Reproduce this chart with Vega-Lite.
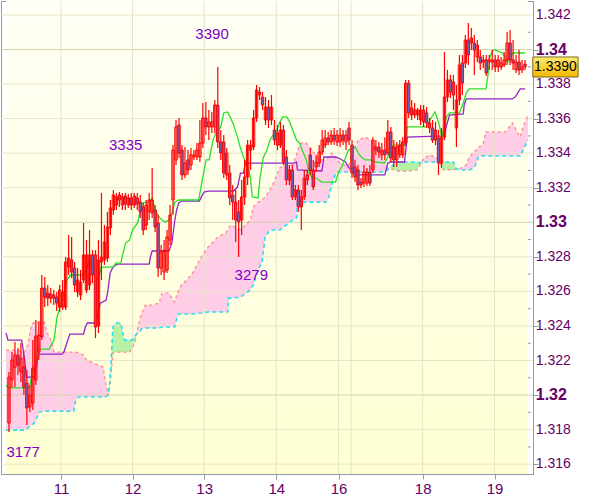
{
"$schema": "https://vega.github.io/schema/vega-lite/v6.json",
"width": 532, "height": 473,
"autosize": "none",
"padding": {"left": 1, "top": 1, "right": 67, "bottom": 23},
"background": "white",
"config": {"view": {"stroke": "#8D9CAB", "strokeWidth": 1},
  "axis": {"grid": false, "domainColor": "#8D9CAB", "tickColor": "#8D9CAB", "labelColor": "#660066", "labelFont": "Liberation Sans", "labelFlush": false, "tickSize": 5},
  "axisX": {"labelPadding": 2, "labelFontSize": 15}},
"datasets": {
"candles": [
{"i":1,"o":1.31838,"h":1.32133,"l":1.31786,"c":1.32104},
{"i":2,"o":1.32087,"h":1.32249,"l":1.32041,"c":1.32203},
{"i":3,"o":1.32162,"h":1.32307,"l":1.32046,"c":1.32232},
{"i":4,"o":1.32232,"h":1.32272,"l":1.32116,"c":1.32174},
{"i":5,"o":1.32133,"h":1.32301,"l":1.32075,"c":1.32214},
{"i":6,"o":1.32162,"h":1.32232,"l":1.32000,"c":1.32046},
{"i":7,"o":1.32069,"h":1.32145,"l":1.31826,"c":1.31925},
{"i":8,"o":1.31931,"h":1.32058,"l":1.31902,"c":1.32000},
{"i":9,"o":1.31954,"h":1.32318,"l":1.31913,"c":1.32156},
{"i":10,"o":1.32087,"h":1.32435,"l":1.32058,"c":1.32342},
{"i":11,"o":1.32249,"h":1.32423,"l":1.32203,"c":1.32347},
{"i":12,"o":1.32336,"h":1.32695,"l":1.32318,"c":1.32619},
{"i":13,"o":1.32619,"h":1.32683,"l":1.32509,"c":1.32567},
{"i":14,"o":1.32590,"h":1.32637,"l":1.32515,"c":1.32561},
{"i":15,"o":1.32561,"h":1.32619,"l":1.32532,"c":1.32585},
{"i":16,"o":1.32579,"h":1.32608,"l":1.32521,"c":1.32561},
{"i":17,"o":1.32567,"h":1.32596,"l":1.32486,"c":1.32532},
{"i":18,"o":1.32509,"h":1.32637,"l":1.32482,"c":1.32608},
{"i":19,"o":1.32509,"h":1.32666,"l":1.32492,"c":1.32596},
{"i":20,"o":1.32509,"h":1.32799,"l":1.32492,"c":1.32770},
{"i":21,"o":1.32741,"h":1.32926,"l":1.32695,"c":1.32793},
{"i":22,"o":1.32782,"h":1.32915,"l":1.32677,"c":1.32712},
{"i":23,"o":1.32735,"h":1.32770,"l":1.32596,"c":1.32637},
{"i":24,"o":1.32596,"h":1.32735,"l":1.32567,"c":1.32666},
{"i":25,"o":1.32579,"h":1.32724,"l":1.32550,"c":1.32654},
{"i":26,"o":1.32666,"h":1.32996,"l":1.32648,"c":1.32811},
{"i":27,"o":1.32608,"h":1.32897,"l":1.32590,"c":1.32811},
{"i":28,"o":1.32637,"h":1.32955,"l":1.32608,"c":1.32811},
{"i":29,"o":1.32811,"h":1.32839,"l":1.32648,"c":1.32695},
{"i":30,"o":1.32811,"h":1.32839,"l":1.32330,"c":1.32394},
{"i":31,"o":1.32400,"h":1.32897,"l":1.32359,"c":1.32782},
{"i":32,"o":1.32770,"h":1.33170,"l":1.32666,"c":1.32799},
{"i":33,"o":1.32782,"h":1.32984,"l":1.32753,"c":1.32886},
{"i":34,"o":1.32793,"h":1.33060,"l":1.32770,"c":1.32973},
{"i":35,"o":1.32967,"h":1.33129,"l":1.32926,"c":1.33083},
{"i":36,"o":1.33071,"h":1.33187,"l":1.33042,"c":1.33158},
{"i":37,"o":1.33100,"h":1.33170,"l":1.33071,"c":1.33147},
{"i":38,"o":1.33158,"h":1.33175,"l":1.33089,"c":1.33129},
{"i":39,"o":1.33100,"h":1.33170,"l":1.33071,"c":1.33147},
{"i":40,"o":1.33152,"h":1.33170,"l":1.33071,"c":1.33106},
{"i":41,"o":1.33100,"h":1.33164,"l":1.33083,"c":1.33141},
{"i":42,"o":1.33141,"h":1.33170,"l":1.33071,"c":1.33100},
{"i":43,"o":1.33100,"h":1.33170,"l":1.33083,"c":1.33152},
{"i":44,"o":1.33141,"h":1.33170,"l":1.33071,"c":1.33106},
{"i":45,"o":1.33117,"h":1.33158,"l":1.33025,"c":1.33060},
{"i":46,"o":1.33089,"h":1.33112,"l":1.32926,"c":1.32955},
{"i":47,"o":1.32984,"h":1.33129,"l":1.32955,"c":1.33100},
{"i":48,"o":1.33060,"h":1.33170,"l":1.33013,"c":1.33129},
{"i":49,"o":1.33054,"h":1.33314,"l":1.33025,"c":1.33129},
{"i":50,"o":1.33071,"h":1.33100,"l":1.32944,"c":1.32973},
{"i":51,"o":1.32996,"h":1.33042,"l":1.32683,"c":1.32735},
{"i":52,"o":1.32735,"h":1.32868,"l":1.32695,"c":1.32828},
{"i":53,"o":1.32712,"h":1.32897,"l":1.32666,"c":1.32839},
{"i":54,"o":1.32724,"h":1.32955,"l":1.32706,"c":1.32915},
{"i":55,"o":1.32897,"h":1.33100,"l":1.32868,"c":1.33042},
{"i":56,"o":1.33129,"h":1.33447,"l":1.33042,"c":1.33418},
{"i":57,"o":1.33361,"h":1.33592,"l":1.33332,"c":1.33552},
{"i":58,"o":1.33563,"h":1.33604,"l":1.33372,"c":1.33401},
{"i":59,"o":1.33418,"h":1.33447,"l":1.33245,"c":1.33274},
{"i":60,"o":1.33274,"h":1.33436,"l":1.33256,"c":1.33343},
{"i":61,"o":1.33361,"h":1.33418,"l":1.33274,"c":1.33303},
{"i":62,"o":1.33332,"h":1.33430,"l":1.33303,"c":1.33390},
{"i":63,"o":1.33378,"h":1.33418,"l":1.33361,"c":1.33390},
{"i":64,"o":1.33378,"h":1.33459,"l":1.33361,"c":1.33418},
{"i":65,"o":1.33378,"h":1.33592,"l":1.33349,"c":1.33459},
{"i":66,"o":1.33459,"h":1.33691,"l":1.33430,"c":1.33604},
{"i":67,"o":1.33604,"h":1.33696,"l":1.33505,"c":1.33552},
{"i":68,"o":1.33552,"h":1.33650,"l":1.33476,"c":1.33581},
{"i":69,"o":1.33552,"h":1.33639,"l":1.33517,"c":1.33581},
{"i":70,"o":1.33552,"h":1.33708,"l":1.33517,"c":1.33679},
{"i":71,"o":1.33679,"h":1.33899,"l":1.33430,"c":1.33465},
{"i":72,"o":1.33465,"h":1.33534,"l":1.33361,"c":1.33401},
{"i":73,"o":1.33465,"h":1.33505,"l":1.33256,"c":1.33285},
{"i":74,"o":1.33274,"h":1.33430,"l":1.33245,"c":1.33401},
{"i":75,"o":1.33285,"h":1.33332,"l":1.33100,"c":1.33141},
{"i":76,"o":1.33158,"h":1.33216,"l":1.33013,"c":1.33117},
{"i":77,"o":1.33117,"h":1.33187,"l":1.32886,"c":1.33013},
{"i":78,"o":1.33060,"h":1.33129,"l":1.32799,"c":1.33002},
{"i":79,"o":1.33013,"h":1.33245,"l":1.32926,"c":1.33147},
{"i":80,"o":1.33147,"h":1.33361,"l":1.33100,"c":1.33262},
{"i":81,"o":1.33262,"h":1.33476,"l":1.33216,"c":1.33447},
{"i":82,"o":1.33418,"h":1.33476,"l":1.33303,"c":1.33447},
{"i":83,"o":1.33436,"h":1.33650,"l":1.33418,"c":1.33604},
{"i":84,"o":1.33604,"h":1.33795,"l":1.33581,"c":1.33766},
{"i":85,"o":1.33737,"h":1.33783,"l":1.33708,"c":1.33754},
{"i":86,"o":1.33725,"h":1.33754,"l":1.33650,"c":1.33679},
{"i":87,"o":1.33592,"h":1.33725,"l":1.33563,"c":1.33667},
{"i":88,"o":1.33667,"h":1.33708,"l":1.33546,"c":1.33592},
{"i":89,"o":1.33592,"h":1.33737,"l":1.33563,"c":1.33667},
{"i":90,"o":1.33534,"h":1.33592,"l":1.33447,"c":1.33476},
{"i":91,"o":1.33517,"h":1.33563,"l":1.33418,"c":1.33447},
{"i":92,"o":1.33447,"h":1.33581,"l":1.33430,"c":1.33534},
{"i":93,"o":1.33534,"h":1.33563,"l":1.33332,"c":1.33349},
{"i":94,"o":1.33378,"h":1.33418,"l":1.33216,"c":1.33245},
{"i":95,"o":1.33245,"h":1.33332,"l":1.33216,"c":1.33303},
{"i":96,"o":1.33303,"h":1.33332,"l":1.33129,"c":1.33147},
{"i":97,"o":1.33147,"h":1.33216,"l":1.33129,"c":1.33187},
{"i":98,"o":1.33187,"h":1.33216,"l":1.33060,"c":1.33089},
{"i":99,"o":1.33147,"h":1.33187,"l":1.32955,"c":1.33089},
{"i":100,"o":1.33147,"h":1.33303,"l":1.33129,"c":1.33256},
{"i":101,"o":1.33274,"h":1.33303,"l":1.33216,"c":1.33245},
{"i":102,"o":1.33390,"h":1.33430,"l":1.33274,"c":1.33303},
{"i":103,"o":1.33303,"h":1.33361,"l":1.33187,"c":1.33204},
{"i":104,"o":1.33320,"h":1.33390,"l":1.33291,"c":1.33349},
{"i":105,"o":1.33343,"h":1.33447,"l":1.33320,"c":1.33407},
{"i":106,"o":1.33407,"h":1.33534,"l":1.33390,"c":1.33476},
{"i":107,"o":1.33447,"h":1.33534,"l":1.33430,"c":1.33488},
{"i":108,"o":1.33488,"h":1.33523,"l":1.33447,"c":1.33465},
{"i":109,"o":1.33465,"h":1.33534,"l":1.33447,"c":1.33505},
{"i":110,"o":1.33505,"h":1.33546,"l":1.33447,"c":1.33476},
{"i":111,"o":1.33465,"h":1.33534,"l":1.33442,"c":1.33505},
{"i":112,"o":1.33465,"h":1.33546,"l":1.33436,"c":1.33505},
{"i":113,"o":1.33505,"h":1.33534,"l":1.33447,"c":1.33476},
{"i":114,"o":1.33465,"h":1.33534,"l":1.33418,"c":1.33505},
{"i":115,"o":1.33546,"h":1.33581,"l":1.33447,"c":1.33476},
{"i":116,"o":1.33447,"h":1.33476,"l":1.33256,"c":1.33285},
{"i":117,"o":1.33320,"h":1.33361,"l":1.33233,"c":1.33262},
{"i":118,"o":1.33303,"h":1.33332,"l":1.33187,"c":1.33216},
{"i":119,"o":1.33233,"h":1.33256,"l":1.33198,"c":1.33216},
{"i":120,"o":1.33227,"h":1.33332,"l":1.33204,"c":1.33291},
{"i":121,"o":1.33227,"h":1.33314,"l":1.33210,"c":1.33291},
{"i":122,"o":1.33291,"h":1.33332,"l":1.33210,"c":1.33227},
{"i":123,"o":1.33303,"h":1.33493,"l":1.33285,"c":1.33476},
{"i":124,"o":1.33418,"h":1.33476,"l":1.33390,"c":1.33436},
{"i":125,"o":1.33436,"h":1.33465,"l":1.33372,"c":1.33407},
{"i":126,"o":1.33390,"h":1.33459,"l":1.33361,"c":1.33418},
{"i":127,"o":1.33418,"h":1.33493,"l":1.33361,"c":1.33390},
{"i":128,"o":1.33401,"h":1.33592,"l":1.33390,"c":1.33523},
{"i":129,"o":1.33523,"h":1.33552,"l":1.33349,"c":1.33372},
{"i":130,"o":1.33436,"h":1.33476,"l":1.33320,"c":1.33361},
{"i":131,"o":1.33361,"h":1.33465,"l":1.33320,"c":1.33436},
{"i":132,"o":1.33390,"h":1.33476,"l":1.33372,"c":1.33447},
{"i":133,"o":1.33390,"h":1.33493,"l":1.33372,"c":1.33465},
{"i":134,"o":1.33459,"h":1.33824,"l":1.33442,"c":1.33806},
{"i":135,"o":1.33806,"h":1.33824,"l":1.33604,"c":1.33633},
{"i":136,"o":1.33662,"h":1.33708,"l":1.33592,"c":1.33621},
{"i":137,"o":1.33621,"h":1.33691,"l":1.33604,"c":1.33650},
{"i":138,"o":1.33621,"h":1.33662,"l":1.33592,"c":1.33650},
{"i":139,"o":1.33592,"h":1.33679,"l":1.33563,"c":1.33650},
{"i":140,"o":1.33650,"h":1.33679,"l":1.33552,"c":1.33581},
{"i":141,"o":1.33633,"h":1.33667,"l":1.33546,"c":1.33575},
{"i":142,"o":1.33575,"h":1.33604,"l":1.33517,"c":1.33546},
{"i":143,"o":1.33546,"h":1.33592,"l":1.33459,"c":1.33476},
{"i":144,"o":1.33534,"h":1.33581,"l":1.33447,"c":1.33476},
{"i":145,"o":1.33488,"h":1.33534,"l":1.33274,"c":1.33343},
{"i":146,"o":1.33343,"h":1.33546,"l":1.33314,"c":1.33493},
{"i":147,"o":1.33493,"h":1.33986,"l":1.33476,"c":1.33725},
{"i":148,"o":1.33725,"h":1.33882,"l":1.33696,"c":1.33824},
{"i":149,"o":1.33824,"h":1.33853,"l":1.33720,"c":1.33754},
{"i":150,"o":1.33812,"h":1.33853,"l":1.33650,"c":1.33737},
{"i":151,"o":1.33546,"h":1.33795,"l":1.33436,"c":1.33708},
{"i":152,"o":1.33708,"h":1.33969,"l":1.33679,"c":1.33911},
{"i":153,"o":1.33922,"h":1.33969,"l":1.33737,"c":1.33806},
{"i":154,"o":1.33922,"h":1.34084,"l":1.33893,"c":1.34055},
{"i":155,"o":1.34055,"h":1.34154,"l":1.33911,"c":1.33969},
{"i":156,"o":1.34038,"h":1.34125,"l":1.33997,"c":1.34067},
{"i":157,"o":1.34038,"h":1.34084,"l":1.33853,"c":1.33997},
{"i":158,"o":1.33957,"h":1.34055,"l":1.33928,"c":1.34026},
{"i":159,"o":1.33957,"h":1.33997,"l":1.33882,"c":1.33922},
{"i":160,"o":1.33928,"h":1.33969,"l":1.33893,"c":1.33940},
{"i":161,"o":1.33940,"h":1.33969,"l":1.33847,"c":1.33864},
{"i":162,"o":1.33928,"h":1.33969,"l":1.33882,"c":1.33940},
{"i":163,"o":1.33928,"h":1.33997,"l":1.33882,"c":1.33940},
{"i":164,"o":1.33940,"h":1.33969,"l":1.33870,"c":1.33899},
{"i":165,"o":1.33899,"h":1.33969,"l":1.33870,"c":1.33940},
{"i":166,"o":1.33899,"h":1.33957,"l":1.33882,"c":1.33922},
{"i":167,"o":1.33911,"h":1.33986,"l":1.33899,"c":1.33940},
{"i":168,"o":1.33940,"h":1.34102,"l":1.33911,"c":1.34038},
{"i":169,"o":1.34038,"h":1.34113,"l":1.33911,"c":1.33940},
{"i":170,"o":1.33940,"h":1.34055,"l":1.33882,"c":1.33922},
{"i":171,"o":1.33882,"h":1.33969,"l":1.33864,"c":1.33928},
{"i":172,"o":1.33928,"h":1.33997,"l":1.33853,"c":1.33882},
{"i":173,"o":1.33882,"h":1.33940,"l":1.33864,"c":1.33899},
{"i":174,"o":1.33916,"h":1.33940,"l":1.33882,"c":1.33900}
],
"tenkan": [
{"t":0,"v":1.32058},{"t":0.66,"v":1.32041},{"t":7.9,"v":1.32041},{"t":8.55,"v":1.32104},{"t":9.54,"v":1.32174},{"t":10.53,"v":1.3226},{"t":11.18,"v":1.32266},{"t":14.47,"v":1.32266},{"t":15.13,"v":1.32289},{"t":16.12,"v":1.32318},{"t":17.1,"v":1.32452},{"t":18.1,"v":1.32509},{"t":19.4,"v":1.3259},{"t":20.4,"v":1.32666},{"t":21.7,"v":1.32695},{"t":26.0,"v":1.32695},{"t":27.0,"v":1.32724},{"t":28.0,"v":1.32782},{"t":28.9,"v":1.32735},{"t":29.9,"v":1.32683},{"t":30.9,"v":1.32666},{"t":31.9,"v":1.32741},{"t":35.9,"v":1.32741},{"t":36.8,"v":1.32764},{"t":38.5,"v":1.32764},{"t":39.1,"v":1.32811},{"t":40.1,"v":1.3288},{"t":41.4,"v":1.32897},{"t":42.4,"v":1.32955},{"t":44.1,"v":1.32996},{"t":45.1,"v":1.33071},{"t":45.7,"v":1.33112},{"t":48.0,"v":1.33117},{"t":49.0,"v":1.33141},{"t":50.0,"v":1.33071},{"t":51.3,"v":1.33031},{"t":52.3,"v":1.33013},{"t":53.3,"v":1.33002},{"t":54.6,"v":1.33013},{"t":55.6,"v":1.33054},{"t":56.6,"v":1.33117},{"t":57.9,"v":1.33129},{"t":64.5,"v":1.33129},{"t":64.8,"v":1.33147},{"t":65.8,"v":1.33245},{"t":67.1,"v":1.33361},{"t":68.1,"v":1.33361},{"t":69.4,"v":1.33476},{"t":70.4,"v":1.33517},{"t":72.0,"v":1.33552},{"t":73.0,"v":1.33633},{"t":74.3,"v":1.33639},{"t":75.3,"v":1.33604},{"t":76.3,"v":1.33563},{"t":77.6,"v":1.33493},{"t":78.6,"v":1.3343},{"t":79.6,"v":1.33378},{"t":80.9,"v":1.33332},{"t":81.9,"v":1.33262},{"t":82.6,"v":1.33147},{"t":84.5,"v":1.33141},{"t":85.2,"v":1.33262},{"t":86.2,"v":1.33372},{"t":87.5,"v":1.33418},{"t":88.5,"v":1.33476},{"t":89.5,"v":1.33505},{"t":90.8,"v":1.33534},{"t":91.8,"v":1.33581},{"t":92.8,"v":1.3361},{"t":94.1,"v":1.3361},{"t":95.1,"v":1.33581},{"t":96.1,"v":1.33534},{"t":97.4,"v":1.33476},{"t":98.4,"v":1.33459},{"t":99.3,"v":1.33418},{"t":100.7,"v":1.33361},{"t":101.6,"v":1.33285},{"t":102.6,"v":1.33256},{"t":103.9,"v":1.33256},{"t":104.9,"v":1.33245},{"t":105.9,"v":1.33233},{"t":110.5,"v":1.33233},{"t":111.5,"v":1.33291},{"t":112.5,"v":1.3332},{"t":113.8,"v":1.33372},{"t":114.8,"v":1.33418},{"t":117.1,"v":1.33436},{"t":118.1,"v":1.33401},{"t":119.1,"v":1.33378},{"t":120.4,"v":1.33361},{"t":122.4,"v":1.33361},{"t":123.7,"v":1.33349},{"t":127.0,"v":1.33343},{"t":128.0,"v":1.33378},{"t":128.9,"v":1.3343},{"t":130.3,"v":1.33447},{"t":133.6,"v":1.33447},{"t":134.5,"v":1.33552},{"t":141.1,"v":1.33552},{"t":142.1,"v":1.33592},{"t":143.8,"v":1.33639},{"t":145.1,"v":1.33575},{"t":146.1,"v":1.33493},{"t":147.7,"v":1.3361},{"t":148.7,"v":1.33633},{"t":152.0,"v":1.33633},{"t":153.3,"v":1.33691},{"t":154.3,"v":1.33749},{"t":155.3,"v":1.33772},{"t":160.9,"v":1.33772},{"t":161.5,"v":1.33841},{"t":162.2,"v":1.33957},{"t":163.2,"v":1.33997},{"t":164.1,"v":1.33997},{"t":166.4,"v":1.3398},{"t":167.4,"v":1.33957},{"t":168.1,"v":1.33928},{"t":169.1,"v":1.3394},{"t":169.7,"v":1.3398},{"t":174.0,"v":1.3398}
],
"kijun": [
{"t":0,"v":1.32359},{"t":0.66,"v":1.32318},{"t":5.26,"v":1.32318},{"t":6.25,"v":1.32203},{"t":6.9,"v":1.32104},{"t":9.54,"v":1.32104},{"t":10.2,"v":1.32174},{"t":10.86,"v":1.32237},{"t":18.75,"v":1.32237},{"t":19.4,"v":1.32249},{"t":20.4,"v":1.32301},{"t":21.4,"v":1.32353},{"t":26.0,"v":1.32353},{"t":26.6,"v":1.32394},{"t":27.3,"v":1.32417},{"t":29.6,"v":1.32417},{"t":30.3,"v":1.32435},{"t":30.9,"v":1.32475},{"t":31.6,"v":1.32532},{"t":33.6,"v":1.3255},{"t":34.2,"v":1.32608},{"t":34.9,"v":1.32706},{"t":35.9,"v":1.32741},{"t":36.8,"v":1.32753},{"t":37.5,"v":1.32758},{"t":48.0,"v":1.32758},{"t":48.4,"v":1.32799},{"t":49.0,"v":1.32834},{"t":54.6,"v":1.32834},{"t":54.9,"v":1.32845},{"t":55.6,"v":1.3288},{"t":56.6,"v":1.33013},{"t":57.2,"v":1.33071},{"t":57.9,"v":1.33112},{"t":58.9,"v":1.33123},{"t":64.8,"v":1.33123},{"t":65.5,"v":1.33147},{"t":66.4,"v":1.33175},{"t":67.8,"v":1.33181},{"t":76.3,"v":1.33181},{"t":77.6,"v":1.33204},{"t":78.6,"v":1.33285},{"t":79.6,"v":1.33285},{"t":80.3,"v":1.33343},{"t":96.7,"v":1.33343},{"t":97.4,"v":1.33349},{"t":97.7,"v":1.33303},{"t":105.9,"v":1.33297},{"t":106.6,"v":1.33378},{"t":110.5,"v":1.33378},{"t":111.5,"v":1.33372},{"t":113.8,"v":1.33349},{"t":114.8,"v":1.3332},{"t":115.8,"v":1.33303},{"t":117.1,"v":1.33274},{"t":127.0,"v":1.33274},{"t":128.0,"v":1.33343},{"t":128.9,"v":1.33349},{"t":133.6,"v":1.33349},{"t":134.5,"v":1.33493},{"t":146.7,"v":1.335},{"t":148.7,"v":1.33621},{"t":153.3,"v":1.33627},{"t":153.6,"v":1.33679},{"t":154.3,"v":1.33714},{"t":169.7,"v":1.33714},{"t":170.7,"v":1.33725},{"t":172.4,"v":1.33772},{"t":174.0,"v":1.33772}
],
"cloud": [
{"seg":1,"k":"p","t":0,"a":1.3226,"b":1.31797},{"seg":1,"k":"p","t":3.62,"a":1.3226,"b":1.31797},{"seg":1,"k":"p","t":6.25,"a":1.32249,"b":1.31797},{"seg":1,"k":"p","t":7.24,"a":1.32289,"b":1.31809},{"seg":1,"k":"p","t":8.55,"a":1.32405,"b":1.31826},{"seg":1,"k":"p","t":9.54,"a":1.32423,"b":1.31838},{"seg":1,"k":"p","t":11.18,"a":1.32423,"b":1.31902},{"seg":1,"k":"p","t":12.83,"a":1.32423,"b":1.31907},{"seg":1,"k":"p","t":13.82,"a":1.32359,"b":1.31907},{"seg":1,"k":"p","t":15.13,"a":1.32318,"b":1.31907},{"seg":1,"k":"p","t":16.12,"a":1.32249,"b":1.31907},{"seg":1,"k":"p","t":22.7,"a":1.32249,"b":1.31907},{"seg":1,"k":"p","t":23.36,"a":1.32249,"b":1.31971},{"seg":1,"k":"p","t":24.34,"a":1.32243,"b":1.31989},{"seg":1,"k":"p","t":25.99,"a":1.32232,"b":1.31989},{"seg":1,"k":"p","t":26.97,"a":1.32203,"b":1.31989},{"seg":1,"k":"p","t":29.28,"a":1.32185,"b":1.31989},{"seg":1,"k":"p","t":32.57,"a":1.32162,"b":1.31989},{"seg":1,"k":"p","t":33.22,"a":1.32087,"b":1.31989},{"seg":1,"k":"p","t":34.21,"a":1.32,"b":1.32},
{"seg":2,"k":"g","t":34.21,"a":1.32,"b":1.32},{"seg":2,"k":"g","t":34.87,"a":1.32058,"b":1.32087},{"seg":2,"k":"g","t":35.86,"a":1.32243,"b":1.32394},{"seg":2,"k":"g","t":36.84,"a":1.32249,"b":1.32417},{"seg":2,"k":"g","t":38.49,"a":1.32249,"b":1.32417},{"seg":2,"k":"g","t":39.14,"a":1.32249,"b":1.32359},{"seg":2,"k":"g","t":39.8,"a":1.32249,"b":1.32318},{"seg":2,"k":"g","t":41.45,"a":1.32249,"b":1.32318},{"seg":2,"k":"g","t":42.43,"a":1.32278,"b":1.32318},{"seg":2,"k":"g","t":43.42,"a":1.32318,"b":1.32347},{"seg":2,"k":"g","t":43.75,"a":1.32353,"b":1.32353},
{"seg":3,"k":"p","t":43.75,"a":1.32353,"b":1.32353},{"seg":3,"k":"p","t":44.74,"a":1.32435,"b":1.32365},{"seg":3,"k":"p","t":45.72,"a":1.32481,"b":1.32388},{"seg":3,"k":"p","t":46.71,"a":1.32521,"b":1.32388},{"seg":3,"k":"p","t":49.01,"a":1.32521,"b":1.32388},{"seg":3,"k":"p","t":51.32,"a":1.32532,"b":1.32388},{"seg":3,"k":"p","t":52.3,"a":1.3259,"b":1.32394},{"seg":3,"k":"p","t":54.61,"a":1.3259,"b":1.32394},{"seg":3,"k":"p","t":55.59,"a":1.32561,"b":1.32394},{"seg":3,"k":"p","t":56.58,"a":1.32538,"b":1.32394},{"seg":3,"k":"p","t":57.24,"a":1.32579,"b":1.32446},{"seg":3,"k":"p","t":57.89,"a":1.32608,"b":1.32469},{"seg":3,"k":"p","t":58.88,"a":1.32637,"b":1.32469},{"seg":3,"k":"p","t":62.17,"a":1.32695,"b":1.32469},{"seg":3,"k":"p","t":65.46,"a":1.32799,"b":1.32475},{"seg":3,"k":"p","t":67.76,"a":1.32857,"b":1.32481},{"seg":3,"k":"p","t":71.05,"a":1.32915,"b":1.32481},{"seg":3,"k":"p","t":73.68,"a":1.32938,"b":1.32481},{"seg":3,"k":"p","t":74.34,"a":1.32955,"b":1.32481},{"seg":3,"k":"p","t":74.67,"a":1.32967,"b":1.32561},{"seg":3,"k":"p","t":75.33,"a":1.32984,"b":1.32561},{"seg":3,"k":"p","t":78.62,"a":1.32955,"b":1.32567},{"seg":3,"k":"p","t":81.91,"a":1.33013,"b":1.32608},{"seg":3,"k":"p","t":82.89,"a":1.33089,"b":1.32637},{"seg":3,"k":"p","t":84.54,"a":1.33117,"b":1.32724},{"seg":3,"k":"p","t":85.86,"a":1.33129,"b":1.3277},{"seg":3,"k":"p","t":86.84,"a":1.33147,"b":1.32915},{"seg":3,"k":"p","t":88.49,"a":1.33187,"b":1.32955},{"seg":3,"k":"p","t":90.13,"a":1.33245,"b":1.32955},{"seg":3,"k":"p","t":91.78,"a":1.33314,"b":1.32955},{"seg":3,"k":"p","t":93.42,"a":1.33332,"b":1.32978},{"seg":3,"k":"p","t":96.05,"a":1.33332,"b":1.33013},{"seg":3,"k":"p","t":97.37,"a":1.3339,"b":1.33025},{"seg":3,"k":"p","t":97.7,"a":1.33418,"b":1.33112},{"seg":3,"k":"p","t":99.01,"a":1.33459,"b":1.33117},{"seg":3,"k":"p","t":100.66,"a":1.33459,"b":1.33117},{"seg":3,"k":"p","t":102.63,"a":1.33418,"b":1.33117},{"seg":3,"k":"p","t":104.93,"a":1.33361,"b":1.33117},{"seg":3,"k":"p","t":107.24,"a":1.33361,"b":1.33117},{"seg":3,"k":"p","t":108.22,"a":1.33378,"b":1.33147},{"seg":3,"k":"p","t":109.21,"a":1.33401,"b":1.33216},{"seg":3,"k":"p","t":110.53,"a":1.33372,"b":1.33285},{"seg":3,"k":"p","t":111.51,"a":1.33349,"b":1.33291},{"seg":3,"k":"p","t":113.16,"a":1.33332,"b":1.33291},{"seg":3,"k":"p","t":114.8,"a":1.33326,"b":1.33291},{"seg":3,"k":"p","t":116.45,"a":1.33418,"b":1.33291},{"seg":3,"k":"p","t":118.09,"a":1.33476,"b":1.33291},{"seg":3,"k":"p","t":120.39,"a":1.33493,"b":1.33291},{"seg":3,"k":"p","t":122.37,"a":1.33476,"b":1.33291},{"seg":3,"k":"p","t":124.67,"a":1.33418,"b":1.33291},{"seg":3,"k":"p","t":126.97,"a":1.33343,"b":1.33291},{"seg":3,"k":"p","t":127.96,"a":1.33314,"b":1.33303},{"seg":3,"k":"p","t":128.62,"a":1.33314,"b":1.33314},
{"seg":4,"k":"g","t":128.62,"a":1.33314,"b":1.33314},{"seg":4,"k":"g","t":130.26,"a":1.33303,"b":1.33337},{"seg":4,"k":"g","t":131.25,"a":1.33297,"b":1.33349},{"seg":4,"k":"g","t":134.54,"a":1.33297,"b":1.33349},{"seg":4,"k":"g","t":137.83,"a":1.33303,"b":1.33349},{"seg":4,"k":"g","t":139.14,"a":1.33343,"b":1.33343},
{"seg":5,"k":"p","t":139.14,"a":1.33343,"b":1.33343},{"seg":5,"k":"p","t":140.13,"a":1.33372,"b":1.33349},{"seg":5,"k":"p","t":142.11,"a":1.3339,"b":1.33349},{"seg":5,"k":"p","t":144.41,"a":1.33372,"b":1.33349},{"seg":5,"k":"p","t":145.39,"a":1.33349,"b":1.33349},
{"seg":6,"k":"g","t":145.39,"a":1.33349,"b":1.33349},{"seg":6,"k":"g","t":146.71,"a":1.33303,"b":1.33349},{"seg":6,"k":"g","t":150,"a":1.33303,"b":1.33349},{"seg":6,"k":"g","t":150.99,"a":1.33309,"b":1.33309},
{"seg":7,"k":"p","t":150.99,"a":1.33309,"b":1.33309},{"seg":7,"k":"p","t":152.63,"a":1.33314,"b":1.33303},{"seg":7,"k":"p","t":154.28,"a":1.33332,"b":1.33303},{"seg":7,"k":"p","t":155.26,"a":1.33378,"b":1.33303},{"seg":7,"k":"p","t":156.91,"a":1.33407,"b":1.33314},{"seg":7,"k":"p","t":157.57,"a":1.33418,"b":1.33343},{"seg":7,"k":"p","t":158.55,"a":1.33436,"b":1.33384},{"seg":7,"k":"p","t":159.87,"a":1.33447,"b":1.33384},{"seg":7,"k":"p","t":160.86,"a":1.33523,"b":1.33384},{"seg":7,"k":"p","t":167.43,"a":1.33523,"b":1.33384},{"seg":7,"k":"p","t":169.74,"a":1.33575,"b":1.33384},{"seg":7,"k":"p","t":170.72,"a":1.33546,"b":1.33384},{"seg":7,"k":"p","t":172.37,"a":1.33493,"b":1.33384},{"seg":7,"k":"p","t":173.36,"a":1.33552,"b":1.33418},{"seg":7,"k":"p","t":175,"a":1.33621,"b":1.33476}
],
"hgrid": [{"v":1.316},{"v":1.318},{"v":1.32},{"v":1.322},{"v":1.324},{"v":1.326},{"v":1.328},{"v":1.33},{"v":1.332},{"v":1.334},{"v":1.336},{"v":1.338},{"v":1.34},{"v":1.342}],
"minor": [{"v":1.317},{"v":1.319},{"v":1.321},{"v":1.323},{"v":1.325},{"v":1.327},{"v":1.329},{"v":1.331},{"v":1.333},{"v":1.335},{"v":1.337},{"v":1.339},{"v":1.341}],
"ylab": [{"v":1.316,"s":"1.316"},{"v":1.318,"s":"1.318"},{"v":1.322,"s":"1.322"},{"v":1.324,"s":"1.324"},{"v":1.326,"s":"1.326"},{"v":1.328,"s":"1.328"},{"v":1.332,"s":"1.332"},{"v":1.334,"s":"1.334"},{"v":1.336,"s":"1.336"},{"v":1.338,"s":"1.338"},{"v":1.342,"s":"1.342"}],
"ylabBold": [{"v":1.32,"s":"1.32"},{"v":1.33,"s":"1.33"},{"v":1.34,"s":"1.34"}],
"vgrid": [{"t":18.42},{"t":42.43},{"t":66.45},{"t":90.6},{"t":111.5},{"t":115.7},{"t":139.7},{"t":163.8}],
"labels": [{"t":69.08,"p":1.3409,"s":"3390"},{"t":40.13,"p":1.33447,"s":"3335"},{"t":82.24,"p":1.32695,"s":"3279"},{"t":5.76,"p":1.31673,"s":"3177"}],
"pricebox": [{"t1":176.6,"t2":191.8,"p1":1.33957,"p2":1.33841,"tc":184.2,"pc":1.339,"s":"1.3390"}]
},
"layer": [
{"data": {"values": [{}]},
 "mark": {"type": "rect", "fill": {"gradient": "linear", "x1": 0, "y1": 0, "x2": 0, "y2": 1, "stops": [{"offset": 0, "color": "#FFFFF6"}, {"offset": 1, "color": "#FFFFD2"}]}},
 "encoding": {
  "x": {"datum": 0, "type": "quantitative", "scale": {"domain": [0, 175], "nice": false, "zero": false},
   "axis": {"orient": "bottom", "title": null, "values": [18.42, 42.43, 66.45, 90.6, 111.5, 139.7, 163.8], "labelOverlap": false,
    "labelExpr": "datum.value < 30 ? '11' : datum.value < 55 ? '12' : datum.value < 80 ? '13' : datum.value < 100 ? '14' : datum.value < 120 ? '16' : datum.value < 150 ? '18' : '19'"}},
  "x2": {"datum": 175},
  "y": {"datum": 1.34281, "type": "quantitative", "scale": {"domain": [1.31543, 1.34281], "nice": false, "zero": false},
   "axis": {"orient": "right", "title": null, "labels": false,
    "values": [1.316,1.318,1.32,1.322,1.324,1.326,1.328,1.33,1.332,1.334,1.336,1.338,1.34,1.342]}},
  "y2": {"datum": 1.31543}}},
{"data": {"name": "cloud"},
 "mark": {"type": "area", "interpolate": "linear"},
 "encoding": {
  "x": {"field": "t", "type": "quantitative", "scale": {"domain": [0, 175], "nice": false, "zero": false}, "axis": {"title": null, "orient": "bottom"}},
  "y": {"field": "a", "type": "quantitative", "stack": null, "scale": {"domain": [1.31543, 1.34281], "nice": false, "zero": false}, "axis": {"title": null, "orient": "right", "labels": false}},
  "y2": {"field": "b"},
  "detail": {"field": "seg", "type": "nominal"},
  "fill": {"condition": {"test": "datum.k == 'g'", "value": "#B6F2A4"}, "value": "#FFCDE6"}}},
{"data": {"name": "hgrid"},
 "mark": {"type": "rule", "strokeWidth": 1},
 "encoding": {
  "y": {"field": "v", "type": "quantitative", "scale": {"domain": [1.31543, 1.34281], "nice": false, "zero": false}, "axis": {"title": null, "orient": "right", "labels": false}},
  "color": {"condition": {"test": "round(datum.v*1000) % 10 == 0", "value": "#D2D2AE"}, "value": "#E6E6CA"}}},
{"data": {"name": "vgrid"},
 "mark": {"type": "rule", "strokeWidth": 1, "color": "#E4E4C8"},
 "encoding": {
  "x": {"field": "t", "type": "quantitative", "scale": {"domain": [0, 175], "nice": false, "zero": false}, "axis": {"title": null, "orient": "bottom"}}}},
{"data": {"name": "minor"},
 "mark": {"type": "rule", "strokeWidth": 1, "color": "#8D9CAB"},
 "encoding": {
  "x": {"datum": 175, "type": "quantitative", "scale": {"domain": [0, 175], "nice": false, "zero": false}, "axis": {"title": null, "orient": "bottom"}},
  "x2": {"datum": 176},
  "y": {"field": "v", "type": "quantitative", "scale": {"domain": [1.31543, 1.34281], "nice": false, "zero": false}, "axis": {"title": null, "orient": "right", "labels": false}}}},
{"data": {"name": "ylab"},
 "mark": {"type": "text", "color": "#660066", "font": "Liberation Sans", "fontSize": 14, "align": "left", "baseline": "middle"},
 "encoding": {
  "x": {"datum": 177.6, "type": "quantitative", "scale": {"domain": [0, 175], "nice": false, "zero": false}, "axis": {"title": null, "orient": "bottom"}},
  "y": {"field": "v", "type": "quantitative", "scale": {"domain": [1.31543, 1.34281], "nice": false, "zero": false}, "axis": {"title": null, "orient": "right", "labels": false}},
  "text": {"field": "s"}}},
{"data": {"name": "ylabBold"},
 "mark": {"type": "text", "color": "#660066", "font": "Liberation Sans", "fontSize": 16, "fontWeight": "bold", "align": "left", "baseline": "middle"},
 "encoding": {
  "x": {"datum": 177.6, "type": "quantitative", "scale": {"domain": [0, 175], "nice": false, "zero": false}, "axis": {"title": null, "orient": "bottom"}},
  "y": {"field": "v", "type": "quantitative", "scale": {"domain": [1.31543, 1.34281], "nice": false, "zero": false}, "axis": {"title": null, "orient": "right", "labels": false}},
  "text": {"field": "s"}}},
{"data": {"name": "cloud"},
 "mark": {"type": "line", "color": "#FF8A8A", "strokeWidth": 1.3, "strokeDash": [3, 3]},
 "encoding": {
  "x": {"field": "t", "type": "quantitative", "scale": {"domain": [0, 175], "nice": false, "zero": false}, "axis": {"title": null, "orient": "bottom"}},
  "y": {"field": "a", "type": "quantitative", "scale": {"domain": [1.31543, 1.34281], "nice": false, "zero": false}, "axis": {"title": null, "orient": "right", "labels": false}}}},
{"data": {"name": "cloud"},
 "mark": {"type": "line", "color": "#30DDF0", "strokeWidth": 1.6, "strokeDash": [4, 3]},
 "encoding": {
  "x": {"field": "t", "type": "quantitative", "scale": {"domain": [0, 175], "nice": false, "zero": false}, "axis": {"title": null, "orient": "bottom"}},
  "y": {"field": "b", "type": "quantitative", "scale": {"domain": [1.31543, 1.34281], "nice": false, "zero": false}, "axis": {"title": null, "orient": "right", "labels": false}}}},
{"data": {"name": "kijun"},
 "mark": {"type": "line", "color": "#9424C8", "strokeWidth": 1.3},
 "encoding": {
  "x": {"field": "t", "type": "quantitative", "scale": {"domain": [0, 175], "nice": false, "zero": false}, "axis": {"title": null, "orient": "bottom"}},
  "y": {"field": "v", "type": "quantitative", "scale": {"domain": [1.31543, 1.34281], "nice": false, "zero": false}, "axis": {"title": null, "orient": "right", "labels": false}}}},
{"data": {"name": "tenkan"},
 "mark": {"type": "line", "color": "#28E028", "strokeWidth": 1.3},
 "encoding": {
  "x": {"field": "t", "type": "quantitative", "scale": {"domain": [0, 175], "nice": false, "zero": false}, "axis": {"title": null, "orient": "bottom"}},
  "y": {"field": "v", "type": "quantitative", "scale": {"domain": [1.31543, 1.34281], "nice": false, "zero": false}, "axis": {"title": null, "orient": "right", "labels": false}}}},
{"data": {"name": "candles"},
 "mark": {"type": "rule", "color": "#FF0000", "strokeWidth": 1.2},
 "encoding": {
  "x": {"field": "i", "type": "quantitative", "scale": {"domain": [0, 175], "nice": false, "zero": false}, "axis": {"title": null, "orient": "bottom"}},
  "y": {"field": "l", "type": "quantitative", "scale": {"domain": [1.31543, 1.34281], "nice": false, "zero": false}, "axis": {"title": null, "orient": "right", "labels": false}},
  "y2": {"field": "h"}}},
{"data": {"name": "candles"},
 "mark": {"type": "bar", "width": 2.4, "stroke": "#FF0000", "strokeWidth": 1},
 "encoding": {
  "x": {"field": "i", "type": "quantitative", "scale": {"domain": [0, 175], "nice": false, "zero": false}, "axis": {"title": null, "orient": "bottom"}},
  "y": {"field": "o", "type": "quantitative", "scale": {"domain": [1.31543, 1.34281], "nice": false, "zero": false}, "axis": {"title": null, "orient": "right", "labels": false}},
  "y2": {"field": "c"},
  "fill": {"condition": {"test": "datum.c < datum.o", "value": "#7060B0"}, "value": "transparent"}}},
{"data": {"name": "labels"},
 "mark": {"type": "text", "color": "#8000C8", "font": "Liberation Sans", "fontSize": 15, "align": "center", "baseline": "middle"},
 "encoding": {
  "x": {"field": "t", "type": "quantitative", "scale": {"domain": [0, 175], "nice": false, "zero": false}, "axis": {"title": null, "orient": "bottom"}},
  "y": {"field": "p", "type": "quantitative", "scale": {"domain": [1.31543, 1.34281], "nice": false, "zero": false}, "axis": {"title": null, "orient": "right", "labels": false}},
  "text": {"field": "s"}}},
{"data": {"name": "pricebox"},
 "mark": {"type": "rect", "stroke": "#7A6A20", "strokeWidth": 1, "fill": {"gradient": "linear", "x1": 0, "y1": 0, "x2": 0, "y2": 1, "stops": [{"offset": 0, "color": "#FFEB70"}, {"offset": 1, "color": "#F2B800"}]}},
 "encoding": {
  "x": {"field": "t1", "type": "quantitative", "scale": {"domain": [0, 175], "nice": false, "zero": false}, "axis": {"title": null, "orient": "bottom"}},
  "x2": {"field": "t2"},
  "y": {"field": "p1", "type": "quantitative", "scale": {"domain": [1.31543, 1.34281], "nice": false, "zero": false}, "axis": {"title": null, "orient": "right", "labels": false}},
  "y2": {"field": "p2"}}},
{"data": {"name": "pricebox"},
 "mark": {"type": "text", "color": "#000000", "font": "Liberation Sans", "fontSize": 14, "align": "center", "baseline": "middle"},
 "encoding": {
  "x": {"field": "tc", "type": "quantitative", "scale": {"domain": [0, 175], "nice": false, "zero": false}, "axis": {"title": null, "orient": "bottom"}},
  "y": {"field": "pc", "type": "quantitative", "scale": {"domain": [1.31543, 1.34281], "nice": false, "zero": false}, "axis": {"title": null, "orient": "right", "labels": false}},
  "text": {"field": "s"}}}
]
}
